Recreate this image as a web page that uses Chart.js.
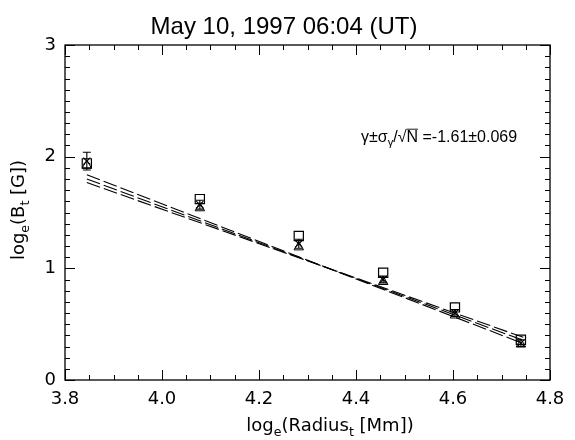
<!DOCTYPE html>
<html><head><meta charset="utf-8">
<script src="https://cdn.jsdelivr.net/npm/chart.js@4.4.0/dist/chart.umd.min.js"></script>
<style>html,body{margin:0;padding:0;background:#fff}#wrap{width:575px;height:440px}</style>
</head><body><div id="wrap"><canvas id="c" width="575" height="440"></canvas></div>
<script>
// ---- data ----
const radiusLog  = [3.845, 4.078, 4.282, 4.456, 4.604, 4.740];
const bSquare    = [1.94, 1.62, 1.29, 0.96, 0.65, 0.36];
const bCross     = [1.96, 1.57, 1.22, 0.90, 0.60, 0.33];
const bTriangle  = [1.92, 1.54, 1.19, 0.88, 0.58, 0.32];
const bCrossErr  = [0.08, 0.04, 0.04, 0.03, 0.03, 0.03];
const fitX       = [3.845, 4.745];
const fitMid     = [1.800, 0.355];
const fitSteep   = [1.838, 0.326];
const fitShallow = [1.768, 0.382];
const xTicks = [3.8, 4.0, 4.2, 4.4, 4.6, 4.8];
const yTicks = [0, 1, 2, 3];
const titleText = 'May 10, 1997 06:04 (UT)';
const FONT = '"Liberation Sans", Arial, sans-serif';
const FONT2 = '"DejaVu Sans", sans-serif';

const pts = (xs, ys) => xs.map((x, i) => ({x: x, y: ys[i]}));

const frame = {
  id: 'frame',
  afterDatasetsDraw(chart) {
    const {ctx, chartArea: a, scales: {x, y}} = chart;
    ctx.save();
    // error bars
    ctx.strokeStyle = '#000'; ctx.lineWidth = 1.1;
    radiusLog.forEach((rx, i) => {
      const px = x.getPixelForValue(rx);
      const y1 = y.getPixelForValue(bCross[i] + bCrossErr[i]);
      const y2 = y.getPixelForValue(bCross[i] - bCrossErr[i]);
      ctx.beginPath();
      ctx.moveTo(px, y1); ctx.lineTo(px, y2);
      ctx.moveTo(px - 4, y1); ctx.lineTo(px + 4, y1);
      ctx.moveTo(px - 4, y2); ctx.lineTo(px + 4, y2);
      ctx.stroke();
    });
    // box
    ctx.lineWidth = 1.3;
    ctx.strokeRect(a.left, a.top, a.right - a.left, a.bottom - a.top);
    ctx.lineWidth = 1;
    ctx.beginPath();
    for (let k = 0; k <= 20; k++) {
      const v = 3.8 + k * 0.05;
      const px = Math.round(x.getPixelForValue(v)) + 0.5;
      const len = (k % 4 === 0) ? 10 : 5;
      ctx.moveTo(px, a.bottom); ctx.lineTo(px, a.bottom - len);
      ctx.moveTo(px, a.top); ctx.lineTo(px, a.top + len);
    }
    for (let k = 0; k <= 30; k++) {
      const v = k * 0.1;
      const py = Math.round(y.getPixelForValue(v)) + 0.5;
      const len = (k % 10 === 0) ? 10 : 5;
      ctx.moveTo(a.left, py); ctx.lineTo(a.left + len, py);
      ctx.moveTo(a.right, py); ctx.lineTo(a.right - len, py);
    }
    ctx.stroke();

    const drawParts = (parts, size, font, xStart, base) => {
      let cx = xStart;
      parts.forEach(p => {
        const s = p.sub ? size * 0.7 : size;
        ctx.font = s + 'px ' + font;
        const w = ctx.measureText(p.t).width;
        const by = p.sub ? base + size * 0.25 : base;
        ctx.fillText(p.t, cx, by);
        if (p.over) {
          ctx.beginPath(); ctx.lineWidth = 0.9;
          ctx.moveTo(cx, by - size * 0.8); ctx.lineTo(cx + w, by - size * 0.8); ctx.stroke();
        }
        cx += w;
      });
      return cx - xStart;
    };
    const measureParts = (parts, size, font) => parts.reduce((acc, p) => {
      ctx.font = (p.sub ? size * 0.7 : size) + 'px ' + font;
      return acc + ctx.measureText(p.t).width;
    }, 0);

    ctx.fillStyle = '#000';
    ctx.textBaseline = 'alphabetic';
    ctx.textAlign = 'left';
    // title
    ctx.font = '24px ' + FONT;
    const tw = ctx.measureText(titleText).width;
    ctx.fillText(titleText, 284 - tw / 2, 34);

    // x title
    const xt = [{t: 'log'}, {t: 'e', sub: true}, {t: '(Radius'}, {t: 't', sub: true}, {t: ' [Mm])'}];
    const xs = 18;
    const xw = measureParts(xt, xs, FONT2);
    drawParts(xt, xs, FONT2, 330 - xw / 2, 431);

    // y title
    const yt = [{t: 'log'}, {t: 'e', sub: true}, {t: '(B'}, {t: 't', sub: true}, {t: ' [G])'}];
    const yw = measureParts(yt, xs, FONT2);
    ctx.save();
    ctx.translate(24, 210);
    ctx.rotate(-Math.PI / 2);
    drawParts(yt, xs, FONT2, -yw / 2, 0);
    ctx.restore();

    // annotation
    const an = [{t: 'γ±σ'}, {t: 'γ', sub: true}, {t: '/√'}, {t: 'N', over: true}, {t: ' =-1.61±0.069'}];
    drawParts(an, 16, FONT, 361, 142);
    ctx.restore();
  }
};

const lineDs = (data) => ({
  type: 'line', data: data, borderColor: '#000', borderWidth: 1.1,
  borderDash: [14, 4], pointRadius: 0, fill: false, tension: 0
});

new Chart(document.getElementById('c'), {
  type: 'scatter',
  data: {
    datasets: [
      lineDs(pts(fitX, fitSteep)),
      lineDs(pts(fitX, fitMid)),
      lineDs(pts(fitX, fitShallow)),
      {data: pts(radiusLog, bSquare), pointStyle: 'rect', pointRadius: 6.5,
       borderColor: '#000', backgroundColor: 'rgba(255,255,255,0)', borderWidth: 1.2},
      {data: pts(radiusLog, bCross), pointStyle: 'crossRot', pointRadius: 5,
       borderColor: '#000', borderWidth: 1.2},
      {data: pts(radiusLog, bTriangle), pointStyle: 'triangle', pointRadius: 5.5,
       borderColor: '#000', backgroundColor: 'rgba(255,255,255,0)', borderWidth: 1}
    ]
  },
  options: {
    responsive: false, animation: false, devicePixelRatio: 1,
    layout: {padding: {top: 45, right: 25, left: 0, bottom: 0}},
    plugins: {legend: {display: false}, tooltip: {enabled: false}, title: {display: false}},
    scales: {
      x: {
        type: 'linear', min: 3.8, max: 4.8,
        grid: {display: false, drawTicks: false}, border: {display: false},
        afterBuildTicks: s => { s.ticks = xTicks.map(v => ({value: v})); },
        afterFit: s => { s.height = 60; },
        ticks: {padding: 9, color: '#000', font: {family: FONT2, size: 18},
                callback: v => Number(v).toFixed(1), maxRotation: 0, autoSkip: false}
      },
      y: {
        type: 'linear', min: 0, max: 3,
        grid: {display: false, drawTicks: false}, border: {display: false},
        afterBuildTicks: s => { s.ticks = yTicks.map(v => ({value: v})); },
        afterFit: s => { s.width = 65; },
        ticks: {padding: 9, color: '#000', font: {family: FONT2, size: 18},
                callback: v => String(v), autoSkip: false}
      }
    }
  },
  plugins: [frame]
});
</script></body></html>
